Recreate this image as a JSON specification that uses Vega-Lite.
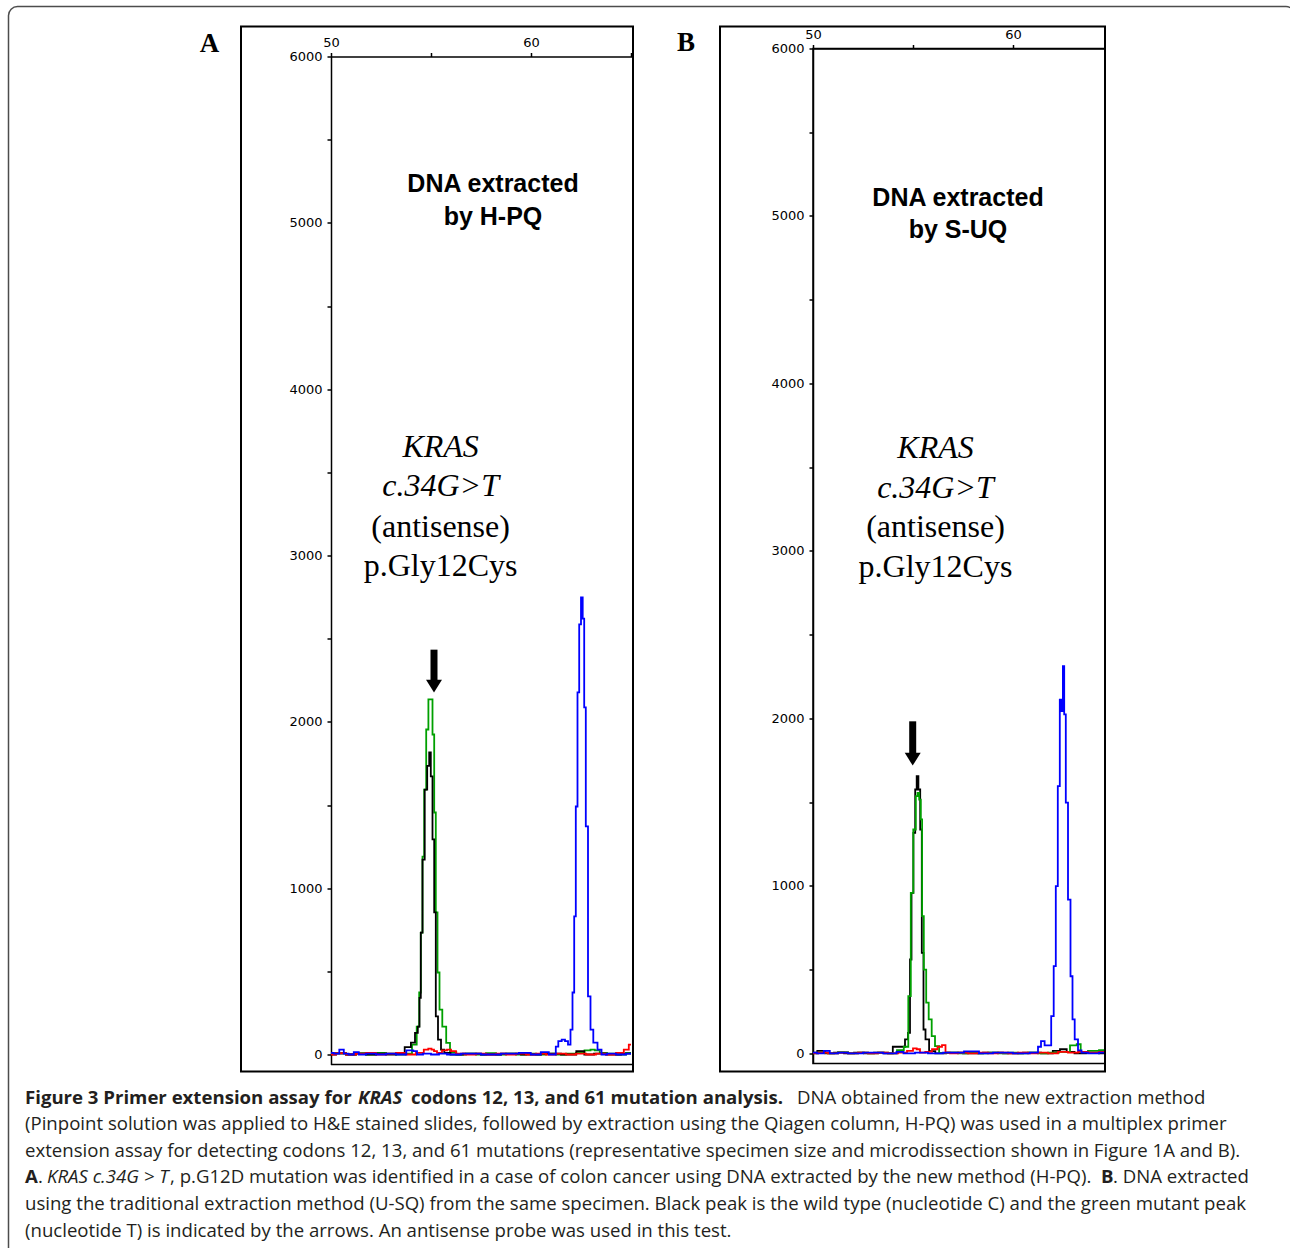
{
"$schema": "https://vega.github.io/schema/vega-lite/v6.json",
"background": "white",
"padding": {"left": 7, "top": 5.5, "right": 0, "bottom": 0},
"autosize": {"type": "pad"},
"columns": 2,
"align": "each",
"bounds": "flush",
"spacing": {"row": 39, "column": 181},
"config": {
  "view": {"stroke": null},
  "axis": {"domainColor": "#000", "domainWidth": 1.5, "tickColor": "#000", "tickWidth": 1.5, "tickSize": 4, "labelColor": "#000", "labelFont": "DejaVu Sans", "labelFontSize": 13, "grid": false, "labelFlush": false, "labelOverlap": false}
},
"datasets": {
  "traces": [
    {"panel":"A","dye":"green","x":50.0,"y":5},{"panel":"A","dye":"green","x":50.5,"y":10},{"panel":"A","dye":"green","x":51.0,"y":0},{"panel":"A","dye":"green","x":51.5,"y":8},{"panel":"A","dye":"green","x":52.0,"y":0},{"panel":"A","dye":"green","x":52.5,"y":10},{"panel":"A","dye":"green","x":53.0,"y":5},{"panel":"A","dye":"green","x":53.5,"y":0},{"panel":"A","dye":"green","x":53.9,"y":5},{"panel":"A","dye":"green","x":54.2,"y":60},{"panel":"A","dye":"green","x":54.37,"y":168},{"panel":"A","dye":"green","x":54.45,"y":373},{"panel":"A","dye":"green","x":54.53,"y":733},{"panel":"A","dye":"green","x":54.62,"y":1190},{"panel":"A","dye":"green","x":54.7,"y":1593},{"panel":"A","dye":"green","x":54.82,"y":1954},{"panel":"A","dye":"green","x":54.92,"y":2135},{"panel":"A","dye":"green","x":55.03,"y":2135},{"panel":"A","dye":"green","x":55.12,"y":1924},{"panel":"A","dye":"green","x":55.2,"y":1455},{"panel":"A","dye":"green","x":55.28,"y":854},{"panel":"A","dye":"green","x":55.37,"y":493},{"panel":"A","dye":"green","x":55.48,"y":270},{"panel":"A","dye":"green","x":55.65,"y":168},{"panel":"A","dye":"green","x":55.87,"y":70},{"panel":"A","dye":"green","x":56.03,"y":15},{"panel":"A","dye":"green","x":56.5,"y":0},{"panel":"A","dye":"green","x":57.0,"y":5},{"panel":"A","dye":"green","x":57.5,"y":0},{"panel":"A","dye":"green","x":58.0,"y":8},{"panel":"A","dye":"green","x":58.5,"y":0},{"panel":"A","dye":"green","x":59.0,"y":5},{"panel":"A","dye":"green","x":59.5,"y":0},{"panel":"A","dye":"green","x":60.0,"y":5},{"panel":"A","dye":"green","x":60.5,"y":0},{"panel":"A","dye":"green","x":61.0,"y":5},{"panel":"A","dye":"green","x":61.5,"y":0},{"panel":"A","dye":"green","x":62.0,"y":5},{"panel":"A","dye":"green","x":62.5,"y":10},{"panel":"A","dye":"green","x":62.85,"y":25},{"panel":"A","dye":"green","x":63.1,"y":30},{"panel":"A","dye":"green","x":63.28,"y":25},{"panel":"A","dye":"green","x":63.6,"y":10},{"panel":"A","dye":"green","x":64.0,"y":5},{"panel":"A","dye":"green","x":64.5,"y":0},{"panel":"A","dye":"green","x":65.0,"y":10},
    {"panel":"A","dye":"black","x":50.0,"y":0},{"panel":"A","dye":"black","x":50.5,"y":5},{"panel":"A","dye":"black","x":51.0,"y":0},{"panel":"A","dye":"black","x":51.5,"y":5},{"panel":"A","dye":"black","x":52.0,"y":0},{"panel":"A","dye":"black","x":52.5,"y":5},{"panel":"A","dye":"black","x":53.0,"y":0},{"panel":"A","dye":"black","x":53.5,"y":5},{"panel":"A","dye":"black","x":53.87,"y":45},{"panel":"A","dye":"black","x":54.12,"y":72},{"panel":"A","dye":"black","x":54.28,"y":130},{"panel":"A","dye":"black","x":54.4,"y":168},{"panel":"A","dye":"black","x":54.45,"y":340},{"panel":"A","dye":"black","x":54.53,"y":733},{"panel":"A","dye":"black","x":54.62,"y":1172},{"panel":"A","dye":"black","x":54.75,"y":1593},{"panel":"A","dye":"black","x":54.87,"y":1735},{"panel":"A","dye":"black","x":54.95,"y":1816},{"panel":"A","dye":"black","x":55.03,"y":1672},{"panel":"A","dye":"black","x":55.12,"y":1293},{"panel":"A","dye":"black","x":55.2,"y":854},{"panel":"A","dye":"black","x":55.28,"y":229},{"panel":"A","dye":"black","x":55.42,"y":90},{"panel":"A","dye":"black","x":55.58,"y":30},{"panel":"A","dye":"black","x":55.75,"y":10},{"panel":"A","dye":"black","x":56.2,"y":0},{"panel":"A","dye":"black","x":57.0,"y":5},{"panel":"A","dye":"black","x":58.0,"y":0},{"panel":"A","dye":"black","x":59.0,"y":5},{"panel":"A","dye":"black","x":60.0,"y":0},{"panel":"A","dye":"black","x":61.0,"y":5},{"panel":"A","dye":"black","x":62.0,"y":0},{"panel":"A","dye":"black","x":62.53,"y":20},{"panel":"A","dye":"black","x":62.8,"y":0},{"panel":"A","dye":"black","x":63.5,"y":5},{"panel":"A","dye":"black","x":64.0,"y":0},{"panel":"A","dye":"black","x":65.0,"y":5},
    {"panel":"A","dye":"red","x":50.0,"y":0},{"panel":"A","dye":"red","x":50.5,"y":8},{"panel":"A","dye":"red","x":51.0,"y":0},{"panel":"A","dye":"red","x":51.5,"y":5},{"panel":"A","dye":"red","x":52.0,"y":10},{"panel":"A","dye":"red","x":52.5,"y":0},{"panel":"A","dye":"red","x":53.0,"y":5},{"panel":"A","dye":"red","x":53.5,"y":10},{"panel":"A","dye":"red","x":54.0,"y":0},{"panel":"A","dye":"red","x":54.5,"y":10},{"panel":"A","dye":"red","x":54.78,"y":30},{"panel":"A","dye":"red","x":54.95,"y":35},{"panel":"A","dye":"red","x":55.1,"y":30},{"panel":"A","dye":"red","x":55.2,"y":20},{"panel":"A","dye":"red","x":55.4,"y":10},{"panel":"A","dye":"red","x":55.7,"y":25},{"panel":"A","dye":"red","x":55.9,"y":30},{"panel":"A","dye":"red","x":56.1,"y":20},{"panel":"A","dye":"red","x":56.4,"y":5},{"panel":"A","dye":"red","x":57.0,"y":0},{"panel":"A","dye":"red","x":57.5,"y":5},{"panel":"A","dye":"red","x":58.0,"y":0},{"panel":"A","dye":"red","x":58.5,"y":5},{"panel":"A","dye":"red","x":59.0,"y":0},{"panel":"A","dye":"red","x":59.5,"y":5},{"panel":"A","dye":"red","x":60.0,"y":0},{"panel":"A","dye":"red","x":60.5,"y":5},{"panel":"A","dye":"red","x":61.0,"y":0},{"panel":"A","dye":"red","x":61.5,"y":5},{"panel":"A","dye":"red","x":62.0,"y":0},{"panel":"A","dye":"red","x":62.5,"y":5},{"panel":"A","dye":"red","x":63.0,"y":0},{"panel":"A","dye":"red","x":63.5,"y":5},{"panel":"A","dye":"red","x":64.0,"y":0},{"panel":"A","dye":"red","x":64.5,"y":10},{"panel":"A","dye":"red","x":64.78,"y":30},{"panel":"A","dye":"red","x":65.0,"y":60},
    {"panel":"A","dye":"blue","x":50.0,"y":10},{"panel":"A","dye":"blue","x":50.3,"y":5},{"panel":"A","dye":"blue","x":50.53,"y":30},{"panel":"A","dye":"blue","x":50.75,"y":5},{"panel":"A","dye":"blue","x":51.0,"y":0},{"panel":"A","dye":"blue","x":51.28,"y":15},{"panel":"A","dye":"blue","x":51.5,"y":0},{"panel":"A","dye":"blue","x":52.0,"y":5},{"panel":"A","dye":"blue","x":52.5,"y":0},{"panel":"A","dye":"blue","x":53.0,"y":5},{"panel":"A","dye":"blue","x":53.5,"y":0},{"panel":"A","dye":"blue","x":54.03,"y":25},{"panel":"A","dye":"blue","x":54.2,"y":20},{"panel":"A","dye":"blue","x":54.4,"y":0},{"panel":"A","dye":"blue","x":54.8,"y":5},{"panel":"A","dye":"blue","x":55.2,"y":0},{"panel":"A","dye":"blue","x":55.6,"y":5},{"panel":"A","dye":"blue","x":56.0,"y":0},{"panel":"A","dye":"blue","x":57.0,"y":5},{"panel":"A","dye":"blue","x":58.0,"y":0},{"panel":"A","dye":"blue","x":59.0,"y":5},{"panel":"A","dye":"blue","x":59.78,"y":10},{"panel":"A","dye":"blue","x":60.2,"y":0},{"panel":"A","dye":"blue","x":60.78,"y":15},{"panel":"A","dye":"blue","x":61.0,"y":0},{"panel":"A","dye":"blue","x":61.2,"y":0},{"panel":"A","dye":"blue","x":61.28,"y":48},{"panel":"A","dye":"blue","x":61.45,"y":80},{"panel":"A","dye":"blue","x":61.62,"y":90},{"panel":"A","dye":"blue","x":61.78,"y":80},{"panel":"A","dye":"blue","x":61.92,"y":60},{"panel":"A","dye":"blue","x":62.03,"y":150},{"panel":"A","dye":"blue","x":62.12,"y":373},{"panel":"A","dye":"blue","x":62.2,"y":830},{"panel":"A","dye":"blue","x":62.28,"y":1491},{"panel":"A","dye":"blue","x":62.37,"y":2177},{"panel":"A","dye":"blue","x":62.45,"y":2586},{"panel":"A","dye":"blue","x":62.55,"y":2748},{"panel":"A","dye":"blue","x":62.62,"y":2620},{"panel":"A","dye":"blue","x":62.7,"y":2087},{"panel":"A","dye":"blue","x":62.78,"y":1371},{"panel":"A","dye":"blue","x":62.92,"y":349},{"panel":"A","dye":"blue","x":63.03,"y":150},{"panel":"A","dye":"blue","x":63.2,"y":72},{"panel":"A","dye":"blue","x":63.45,"y":30},{"panel":"A","dye":"blue","x":63.6,"y":0},{"panel":"A","dye":"blue","x":64.0,"y":5},{"panel":"A","dye":"blue","x":64.5,"y":0},{"panel":"A","dye":"blue","x":65.0,"y":5},
    {"panel":"B","dye":"black","x":50.0,"y":5},{"panel":"B","dye":"black","x":50.43,"y":15},{"panel":"B","dye":"black","x":50.8,"y":0},{"panel":"B","dye":"black","x":51.3,"y":5},{"panel":"B","dye":"black","x":51.8,"y":0},{"panel":"B","dye":"black","x":52.3,"y":5},{"panel":"B","dye":"black","x":52.8,"y":0},{"panel":"B","dye":"black","x":53.3,"y":5},{"panel":"B","dye":"black","x":53.8,"y":0},{"panel":"B","dye":"black","x":54.18,"y":40},{"panel":"B","dye":"black","x":54.52,"y":40},{"panel":"B","dye":"black","x":54.68,"y":84},{"panel":"B","dye":"black","x":54.82,"y":123},{"panel":"B","dye":"black","x":54.88,"y":561},{"panel":"B","dye":"black","x":54.97,"y":959},{"panel":"B","dye":"black","x":55.07,"y":1317},{"panel":"B","dye":"black","x":55.15,"y":1576},{"panel":"B","dye":"black","x":55.22,"y":1656},{"panel":"B","dye":"black","x":55.32,"y":1576},{"panel":"B","dye":"black","x":55.4,"y":1337},{"panel":"B","dye":"black","x":55.48,"y":601},{"panel":"B","dye":"black","x":55.57,"y":143},{"panel":"B","dye":"black","x":55.68,"y":84},{"panel":"B","dye":"black","x":55.93,"y":14},{"panel":"B","dye":"black","x":56.3,"y":0},{"panel":"B","dye":"black","x":57.0,"y":5},{"panel":"B","dye":"black","x":58.0,"y":0},{"panel":"B","dye":"black","x":59.0,"y":5},{"panel":"B","dye":"black","x":60.0,"y":0},{"panel":"B","dye":"black","x":61.0,"y":5},{"panel":"B","dye":"black","x":61.8,"y":0},{"panel":"B","dye":"black","x":62.18,"y":15},{"panel":"B","dye":"black","x":62.52,"y":25},{"panel":"B","dye":"black","x":62.85,"y":10},{"panel":"B","dye":"black","x":63.3,"y":0},{"panel":"B","dye":"black","x":64.0,"y":5},{"panel":"B","dye":"black","x":64.6,"y":0},
    {"panel":"B","dye":"green","x":50.0,"y":0},{"panel":"B","dye":"green","x":50.5,"y":5},{"panel":"B","dye":"green","x":51.0,"y":0},{"panel":"B","dye":"green","x":51.5,"y":8},{"panel":"B","dye":"green","x":52.0,"y":0},{"panel":"B","dye":"green","x":52.5,"y":5},{"panel":"B","dye":"green","x":53.0,"y":0},{"panel":"B","dye":"green","x":53.5,"y":5},{"panel":"B","dye":"green","x":54.0,"y":0},{"panel":"B","dye":"green","x":54.4,"y":20},{"panel":"B","dye":"green","x":54.68,"y":40},{"panel":"B","dye":"green","x":54.85,"y":342},{"panel":"B","dye":"green","x":54.93,"y":959},{"panel":"B","dye":"green","x":55.1,"y":1337},{"panel":"B","dye":"green","x":55.18,"y":1536},{"panel":"B","dye":"green","x":55.27,"y":1556},{"panel":"B","dye":"green","x":55.35,"y":1516},{"panel":"B","dye":"green","x":55.43,"y":1397},{"panel":"B","dye":"green","x":55.48,"y":820},{"panel":"B","dye":"green","x":55.6,"y":501},{"panel":"B","dye":"green","x":55.72,"y":303},{"panel":"B","dye":"green","x":55.85,"y":203},{"panel":"B","dye":"green","x":56.02,"y":104},{"panel":"B","dye":"green","x":56.18,"y":44},{"panel":"B","dye":"green","x":56.43,"y":4},{"panel":"B","dye":"green","x":57.0,"y":5},{"panel":"B","dye":"green","x":57.5,"y":0},{"panel":"B","dye":"green","x":58.0,"y":5},{"panel":"B","dye":"green","x":58.5,"y":0},{"panel":"B","dye":"green","x":59.0,"y":5},{"panel":"B","dye":"green","x":59.5,"y":0},{"panel":"B","dye":"green","x":60.0,"y":5},{"panel":"B","dye":"green","x":60.5,"y":0},{"panel":"B","dye":"green","x":61.0,"y":5},{"panel":"B","dye":"green","x":61.5,"y":0},{"panel":"B","dye":"green","x":62.0,"y":5},{"panel":"B","dye":"green","x":62.6,"y":10},{"panel":"B","dye":"green","x":63.1,"y":48},{"panel":"B","dye":"green","x":63.27,"y":55},{"panel":"B","dye":"green","x":63.5,"y":10},{"panel":"B","dye":"green","x":64.0,"y":15},{"panel":"B","dye":"green","x":64.6,"y":20},
    {"panel":"B","dye":"red","x":50.0,"y":0},{"panel":"B","dye":"red","x":50.5,"y":5},{"panel":"B","dye":"red","x":51.0,"y":0},{"panel":"B","dye":"red","x":51.5,"y":5},{"panel":"B","dye":"red","x":52.0,"y":0},{"panel":"B","dye":"red","x":52.5,"y":5},{"panel":"B","dye":"red","x":53.0,"y":0},{"panel":"B","dye":"red","x":53.5,"y":5},{"panel":"B","dye":"red","x":54.0,"y":0},{"panel":"B","dye":"red","x":54.5,"y":5},{"panel":"B","dye":"red","x":54.9,"y":15},{"panel":"B","dye":"red","x":55.1,"y":30},{"panel":"B","dye":"red","x":55.27,"y":25},{"panel":"B","dye":"red","x":55.43,"y":5},{"panel":"B","dye":"red","x":55.8,"y":10},{"panel":"B","dye":"red","x":56.1,"y":25},{"panel":"B","dye":"red","x":56.35,"y":40},{"panel":"B","dye":"red","x":56.55,"y":50},{"panel":"B","dye":"red","x":56.7,"y":5},{"panel":"B","dye":"red","x":57.0,"y":0},{"panel":"B","dye":"red","x":57.5,"y":5},{"panel":"B","dye":"red","x":58.0,"y":0},{"panel":"B","dye":"red","x":58.5,"y":5},{"panel":"B","dye":"red","x":59.0,"y":0},{"panel":"B","dye":"red","x":59.5,"y":5},{"panel":"B","dye":"red","x":60.0,"y":0},{"panel":"B","dye":"red","x":60.5,"y":5},{"panel":"B","dye":"red","x":61.0,"y":0},{"panel":"B","dye":"red","x":61.5,"y":5},{"panel":"B","dye":"red","x":62.0,"y":0},{"panel":"B","dye":"red","x":62.5,"y":10},{"panel":"B","dye":"red","x":63.0,"y":5},{"panel":"B","dye":"red","x":63.5,"y":10},{"panel":"B","dye":"red","x":64.0,"y":5},{"panel":"B","dye":"red","x":64.6,"y":10},
    {"panel":"B","dye":"blue","x":50.0,"y":5},{"panel":"B","dye":"blue","x":50.4,"y":0},{"panel":"B","dye":"blue","x":50.68,"y":15},{"panel":"B","dye":"blue","x":51.0,"y":0},{"panel":"B","dye":"blue","x":51.5,"y":5},{"panel":"B","dye":"blue","x":52.0,"y":0},{"panel":"B","dye":"blue","x":53.0,"y":5},{"panel":"B","dye":"blue","x":54.0,"y":0},{"panel":"B","dye":"blue","x":54.35,"y":10},{"panel":"B","dye":"blue","x":54.7,"y":0},{"panel":"B","dye":"blue","x":55.5,"y":5},{"panel":"B","dye":"blue","x":56.0,"y":0},{"panel":"B","dye":"blue","x":57.0,"y":5},{"panel":"B","dye":"blue","x":58.1,"y":12},{"panel":"B","dye":"blue","x":58.5,"y":0},{"panel":"B","dye":"blue","x":59.5,"y":5},{"panel":"B","dye":"blue","x":60.5,"y":0},{"panel":"B","dye":"blue","x":61.18,"y":5},{"panel":"B","dye":"blue","x":61.32,"y":40},{"panel":"B","dye":"blue","x":61.48,"y":73},{"panel":"B","dye":"blue","x":61.68,"y":48},{"panel":"B","dye":"blue","x":61.85,"y":48},{"panel":"B","dye":"blue","x":61.97,"y":223},{"panel":"B","dye":"blue","x":62.1,"y":521},{"panel":"B","dye":"blue","x":62.18,"y":999},{"panel":"B","dye":"blue","x":62.3,"y":1596},{"panel":"B","dye":"blue","x":62.38,"y":2113},{"panel":"B","dye":"blue","x":62.47,"y":2044},{"panel":"B","dye":"blue","x":62.52,"y":2312},{"panel":"B","dye":"blue","x":62.6,"y":2024},{"panel":"B","dye":"blue","x":62.68,"y":1497},{"panel":"B","dye":"blue","x":62.82,"y":919},{"panel":"B","dye":"blue","x":62.93,"y":461},{"panel":"B","dye":"blue","x":63.02,"y":203},{"panel":"B","dye":"blue","x":63.15,"y":84},{"panel":"B","dye":"blue","x":63.35,"y":18},{"panel":"B","dye":"blue","x":63.5,"y":5},{"panel":"B","dye":"blue","x":64.0,"y":0},{"panel":"B","dye":"blue","x":64.6,"y":5}
  ],
  "notes": [
    {"panel":"A","role":"title","x":58.1,"y":5188,"text":"DNA extracted"},
    {"panel":"A","role":"title","x":58.1,"y":4984,"text":"by H-PQ"},
    {"panel":"A","role":"gene","x":55.48,"y":3595,"text":"KRAS"},
    {"panel":"A","role":"gene","x":55.48,"y":3355,"text":"c.34G>T"},
    {"panel":"A","role":"desc","x":55.48,"y":3114,"text":"(antisense)"},
    {"panel":"A","role":"desc","x":55.48,"y":2874,"text":"p.Gly12Cys"},
    {"panel":"A","role":"letter","x":43.925,"y":6030,"text":"A"},
    {"panel":"B","role":"title","x":57.25,"y":5062,"text":"DNA extracted"},
    {"panel":"B","role":"title","x":57.25,"y":4866,"text":"by S-UQ"},
    {"panel":"B","role":"gene","x":56.125,"y":3558,"text":"KRAS"},
    {"panel":"B","role":"gene","x":56.125,"y":3319,"text":"c.34G>T"},
    {"panel":"B","role":"desc","x":56.125,"y":3081,"text":"(antisense)"},
    {"panel":"B","role":"desc","x":56.125,"y":2842,"text":"p.Gly12Cys"},
    {"panel":"B","role":"letter","x":43.65,"y":5984,"text":"B"}
  ],
  "arrows": [
    {"panel":"A","x":55.15,"ytop":2434,"yhead":2215},
    {"panel":"B","x":54.985,"ytop":1983,"yhead":1757}
  ],
  "caption": [
    {"line":1,"seg":"h1","text":"Figure 3 Primer extension assay for"},
    {"line":1,"seg":"h2","text":"KRAS"},
    {"line":1,"seg":"h3","text":"codons 12, 13, and 61 mutation analysis."},
    {"line":1,"seg":"b1","text":"DNA obtained from the new extraction method"},
    {"line":2,"seg":"b","text":"(Pinpoint solution was applied to H&E stained slides, followed by extraction using the Qiagen column, H-PQ) was used in a multiplex primer"},
    {"line":3,"seg":"b","text":"extension assay for detecting codons 12, 13, and 61 mutations (representative specimen size and microdissection shown in Figure 1A and B)."},
    {"line":4,"seg":"a1","text":"A"},
    {"line":4,"seg":"a2","text":"."},
    {"line":4,"seg":"a3","text":"KRAS c.34G > T"},
    {"line":4,"seg":"a4","text":", p.G12D mutation was identified in a case of colon cancer using DNA extracted by the new method (H-PQ)."},
    {"line":4,"seg":"a5","text":"B"},
    {"line":4,"seg":"a6","text":". DNA extracted"},
    {"line":5,"seg":"b","text":"using the traditional extraction method (U-SQ) from the same specimen. Black peak is the wild type (nucleotide C) and the green mutant peak"},
    {"line":6,"seg":"b","text":"(nucleotide T) is indicated by the arrows. An antisense probe was used in this test."}
  ]
},
"concat": [
  {
    "width": 301, "height": 1016,
    "layer": [
      {
        "data": {"name": "traces"},
        "transform": [{"filter": "datum.panel === 'A'"}],
        "mark": {"type": "line", "interpolate": "step", "strokeWidth": 1.8},
        "encoding": {
          "x": {"field": "x", "type": "quantitative", "scale": {"domain": [50, 65.05], "nice": false, "zero": false},
                "axis": {"orient": "top", "offset": -8, "values": [50, 55, 60, 65], "labelExpr": "datum.value % 10 === 0 ? datum.label : ''", "title": null, "labelPadding": 3}},
          "y": {"field": "y", "type": "quantitative", "scale": {"domain": [-60, 6000], "range": [1016, 8], "nice": false, "zero": false},
                "axis": {"orient": "left", "values": [0, 500, 1000, 1500, 2000, 2500, 3000, 3500, 4000, 4500, 5000, 5500, 6000], "format": "d", "labelExpr": "datum.value % 1000 === 0 ? datum.label : ''", "title": null, "labelPadding": 5}},
          "color": {"field": "dye", "type": "nominal", "scale": {"domain": ["black", "blue", "green", "red"], "range": ["#000000", "#0000ff", "#00a000", "#ff0000"]}, "legend": null}
        }
      },
      {
        "data": {"values": [{}]},
        "mark": {"type": "rect", "fill": "white", "fillOpacity": 0, "stroke": "#4d4d4d", "strokeWidth": 1.5, "cornerRadius": 9},
        "encoding": {
          "x": {"datum": 33.875, "type": "quantitative", "scale": {"domain": [50, 65.05], "nice": false, "zero": false}},
          "x2": {"datum": 98.2},
          "y": {"datum": 6300, "type": "quantitative", "scale": {"domain": [-60, 6000], "range": [1016, 8], "nice": false, "zero": false}},
          "y2": {"datum": -1235}
        }
      },
      {
        "data": {"values": [{}]},
        "mark": {"type": "rect", "fill": "white", "fillOpacity": 0, "stroke": "#000", "strokeWidth": 2},
        "encoding": {
          "x": {"datum": 45.5, "type": "quantitative", "scale": {"domain": [50, 65.05], "nice": false, "zero": false}},
          "x2": {"datum": 65.1},
          "y": {"datum": 6180, "type": "quantitative", "scale": {"domain": [-60, 6000], "range": [1016, 8], "nice": false, "zero": false}},
          "y2": {"datum": -102}
        }
      },
      {
        "data": {"values": [{}]},
        "mark": {"type": "rule", "stroke": "#000", "strokeWidth": 1.5},
        "encoding": {
          "x": {"datum": 50, "type": "quantitative", "scale": {"domain": [50, 65.05], "nice": false, "zero": false}},
          "x2": {"datum": 65.05},
          "y": {"datum": -60, "type": "quantitative", "scale": {"domain": [-60, 6000], "range": [1016, 8], "nice": false, "zero": false}}
        }
      },
      {
        "data": {"name": "arrows"},
        "transform": [{"filter": "datum.panel === 'A'"}],
        "mark": {"type": "rule", "stroke": "#000", "strokeWidth": 7, "strokeCap": "butt"},
        "encoding": {
          "x": {"field": "x", "type": "quantitative", "scale": {"domain": [50, 65.05], "nice": false, "zero": false}},
          "y": {"field": "ytop", "type": "quantitative", "scale": {"domain": [-60, 6000], "range": [1016, 8], "nice": false, "zero": false}},
          "y2": {"field": "yhead"}
        }
      },
      {
        "data": {"name": "arrows"},
        "transform": [{"filter": "datum.panel === 'A'"}],
        "mark": {"type": "point", "shape": "M -1 -0.8 L 1 -0.8 L 0 0.8 Z", "size": 256, "filled": true, "color": "#000", "opacity": 1},
        "encoding": {
          "x": {"field": "x", "type": "quantitative", "scale": {"domain": [50, 65.05], "nice": false, "zero": false}},
          "y": {"field": "yhead", "type": "quantitative", "scale": {"domain": [-60, 6000], "range": [1016, 8], "nice": false, "zero": false}}
        }
      },
      {
        "data": {"name": "notes"},
        "transform": [{"filter": "datum.panel === 'A' && datum.role === 'title'"}],
        "mark": {"type": "text", "font": "Liberation Sans", "fontWeight": "bold", "fontSize": 25, "align": "center", "baseline": "alphabetic", "color": "#000"},
        "encoding": {
          "x": {"field": "x", "type": "quantitative", "scale": {"domain": [50, 65.05], "nice": false, "zero": false}},
          "y": {"field": "y", "type": "quantitative", "scale": {"domain": [-60, 6000], "range": [1016, 8], "nice": false, "zero": false}},
          "text": {"field": "text"}
        }
      },
      {
        "data": {"name": "notes"},
        "transform": [{"filter": "datum.panel === 'A' && datum.role === 'gene'"}],
        "mark": {"type": "text", "font": "Liberation Serif", "fontStyle": "italic", "fontSize": 32, "align": "center", "baseline": "alphabetic", "color": "#000"},
        "encoding": {
          "x": {"field": "x", "type": "quantitative", "scale": {"domain": [50, 65.05], "nice": false, "zero": false}},
          "y": {"field": "y", "type": "quantitative", "scale": {"domain": [-60, 6000], "range": [1016, 8], "nice": false, "zero": false}},
          "text": {"field": "text"}
        }
      },
      {
        "data": {"name": "notes"},
        "transform": [{"filter": "datum.panel === 'A' && datum.role === 'desc'"}],
        "mark": {"type": "text", "font": "Liberation Serif", "fontSize": 32, "align": "center", "baseline": "alphabetic", "color": "#000"},
        "encoding": {
          "x": {"field": "x", "type": "quantitative", "scale": {"domain": [50, 65.05], "nice": false, "zero": false}},
          "y": {"field": "y", "type": "quantitative", "scale": {"domain": [-60, 6000], "range": [1016, 8], "nice": false, "zero": false}},
          "text": {"field": "text"}
        }
      },
      {
        "data": {"name": "notes"},
        "transform": [{"filter": "datum.panel === 'A' && datum.role === 'letter'"}],
        "mark": {"type": "text", "font": "Liberation Serif", "fontWeight": "bold", "fontSize": 27, "align": "center", "baseline": "alphabetic", "color": "#000"},
        "encoding": {
          "x": {"field": "x", "type": "quantitative", "scale": {"domain": [50, 65.05], "nice": false, "zero": false}},
          "y": {"field": "y", "type": "quantitative", "scale": {"domain": [-60, 6000], "range": [1016, 8], "nice": false, "zero": false}},
          "text": {"field": "text"}
        }
      }
    ]
  },
  {
    "width": 292, "height": 1015,
    "view": {"stroke": "#000", "strokeWidth": 1.5},
    "layer": [
      {
        "data": {"name": "traces"},
        "transform": [{"filter": "datum.panel === 'B'"}],
        "mark": {"type": "line", "interpolate": "step", "strokeWidth": 1.8},
        "encoding": {
          "x": {"field": "x", "type": "quantitative", "scale": {"domain": [50, 64.6], "nice": false, "zero": false},
                "axis": {"orient": "top", "values": [50, 55, 60], "labelExpr": "datum.value % 10 === 0 ? datum.label : ''", "title": null, "labelPadding": 3}},
          "y": {"field": "y", "type": "quantitative", "scale": {"domain": [-60, 6000], "nice": false, "zero": false},
                "axis": {"orient": "left", "values": [0, 500, 1000, 1500, 2000, 2500, 3000, 3500, 4000, 4500, 5000, 5500, 6000], "format": "d", "labelExpr": "datum.value % 1000 === 0 ? datum.label : ''", "title": null, "labelPadding": 5}},
          "color": {"field": "dye", "type": "nominal", "scale": {"domain": ["black", "blue", "green", "red"], "range": ["#000000", "#0000ff", "#00a000", "#ff0000"]}, "legend": null}
        }
      },
      {
        "data": {"values": [{}]},
        "mark": {"type": "rect", "fill": "white", "fillOpacity": 0, "stroke": "#000", "strokeWidth": 2},
        "encoding": {
          "x": {"datum": 45.35, "type": "quantitative", "scale": {"domain": [50, 64.6], "nice": false, "zero": false}},
          "x2": {"datum": 64.6},
          "y": {"datum": 6131, "type": "quantitative", "scale": {"domain": [-60, 6000], "nice": false, "zero": false}},
          "y2": {"datum": -108}
        }
      },
      {
        "data": {"name": "arrows"},
        "transform": [{"filter": "datum.panel === 'B'"}],
        "mark": {"type": "rule", "stroke": "#000", "strokeWidth": 7, "strokeCap": "butt"},
        "encoding": {
          "x": {"field": "x", "type": "quantitative", "scale": {"domain": [50, 64.6], "nice": false, "zero": false}},
          "y": {"field": "ytop", "type": "quantitative", "scale": {"domain": [-60, 6000], "nice": false, "zero": false}},
          "y2": {"field": "yhead"}
        }
      },
      {
        "data": {"name": "arrows"},
        "transform": [{"filter": "datum.panel === 'B'"}],
        "mark": {"type": "point", "shape": "M -1 -0.8 L 1 -0.8 L 0 0.8 Z", "size": 256, "filled": true, "color": "#000", "opacity": 1},
        "encoding": {
          "x": {"field": "x", "type": "quantitative", "scale": {"domain": [50, 64.6], "nice": false, "zero": false}},
          "y": {"field": "yhead", "type": "quantitative", "scale": {"domain": [-60, 6000], "nice": false, "zero": false}}
        }
      },
      {
        "data": {"name": "notes"},
        "transform": [{"filter": "datum.panel === 'B' && datum.role === 'title'"}],
        "mark": {"type": "text", "font": "Liberation Sans", "fontWeight": "bold", "fontSize": 25, "align": "center", "baseline": "alphabetic", "color": "#000"},
        "encoding": {
          "x": {"field": "x", "type": "quantitative", "scale": {"domain": [50, 64.6], "nice": false, "zero": false}},
          "y": {"field": "y", "type": "quantitative", "scale": {"domain": [-60, 6000], "nice": false, "zero": false}},
          "text": {"field": "text"}
        }
      },
      {
        "data": {"name": "notes"},
        "transform": [{"filter": "datum.panel === 'B' && datum.role === 'gene'"}],
        "mark": {"type": "text", "font": "Liberation Serif", "fontStyle": "italic", "fontSize": 32, "align": "center", "baseline": "alphabetic", "color": "#000"},
        "encoding": {
          "x": {"field": "x", "type": "quantitative", "scale": {"domain": [50, 64.6], "nice": false, "zero": false}},
          "y": {"field": "y", "type": "quantitative", "scale": {"domain": [-60, 6000], "nice": false, "zero": false}},
          "text": {"field": "text"}
        }
      },
      {
        "data": {"name": "notes"},
        "transform": [{"filter": "datum.panel === 'B' && datum.role === 'desc'"}],
        "mark": {"type": "text", "font": "Liberation Serif", "fontSize": 32, "align": "center", "baseline": "alphabetic", "color": "#000"},
        "encoding": {
          "x": {"field": "x", "type": "quantitative", "scale": {"domain": [50, 64.6], "nice": false, "zero": false}},
          "y": {"field": "y", "type": "quantitative", "scale": {"domain": [-60, 6000], "nice": false, "zero": false}},
          "text": {"field": "text"}
        }
      },
      {
        "data": {"name": "notes"},
        "transform": [{"filter": "datum.panel === 'B' && datum.role === 'letter'"}],
        "mark": {"type": "text", "font": "Liberation Serif", "fontWeight": "bold", "fontSize": 27, "align": "center", "baseline": "alphabetic", "color": "#000"},
        "encoding": {
          "x": {"field": "x", "type": "quantitative", "scale": {"domain": [50, 64.6], "nice": false, "zero": false}},
          "y": {"field": "y", "type": "quantitative", "scale": {"domain": [-60, 6000], "nice": false, "zero": false}},
          "text": {"field": "text"}
        }
      }
    ]
  },
  {
    "width": 301, "height": 133,
    "data": {"name": "caption"},
    "encoding": {
      "x": {"datum": 34.7, "type": "quantitative", "scale": {"domain": [50, 65.05], "nice": false, "zero": false}, "axis": null},
      "y": {"field": "line", "type": "quantitative", "scale": {"domain": [1, 6], "reverse": true, "nice": false, "zero": false}, "axis": null},
      "text": {"field": "text"}
    },
    "layer": [
      {"transform": [{"filter": "datum.seg === 'b'"}], "mark": {"type": "text", "align": "left", "baseline": "alphabetic", "font": "Open Sans", "fontSize": 18.6, "color": "#231f20"}},
      {"transform": [{"filter": "datum.seg === 'h1'"}], "mark": {"type": "text", "align": "left", "baseline": "alphabetic", "font": "Open Sans", "fontWeight": "bold", "fontSize": 18.6, "color": "#231f20"}},
      {"transform": [{"filter": "datum.seg === 'h2'"}], "mark": {"type": "text", "align": "left", "baseline": "alphabetic", "font": "Open Sans", "fontWeight": "bold", "fontStyle": "italic", "fontSize": 18.6, "color": "#231f20", "dx": 333}},
      {"transform": [{"filter": "datum.seg === 'h3'"}], "mark": {"type": "text", "align": "left", "baseline": "alphabetic", "font": "Open Sans", "fontWeight": "bold", "fontSize": 18.6, "color": "#231f20", "dx": 386}},
      {"transform": [{"filter": "datum.seg === 'b1'"}], "mark": {"type": "text", "align": "left", "baseline": "alphabetic", "font": "Open Sans", "fontSize": 18.6, "color": "#231f20", "dx": 772}},
      {"transform": [{"filter": "datum.seg === 'a1'"}], "mark": {"type": "text", "align": "left", "baseline": "alphabetic", "font": "Open Sans", "fontWeight": "bold", "fontSize": 18.6, "color": "#231f20"}},
      {"transform": [{"filter": "datum.seg === 'a2'"}], "mark": {"type": "text", "align": "left", "baseline": "alphabetic", "font": "Open Sans", "fontSize": 18.6, "color": "#231f20", "dx": 13}},
      {"transform": [{"filter": "datum.seg === 'a3'"}], "mark": {"type": "text", "align": "left", "baseline": "alphabetic", "font": "Open Sans", "fontStyle": "italic", "fontSize": 18.6, "color": "#231f20", "dx": 22}},
      {"transform": [{"filter": "datum.seg === 'a4'"}], "mark": {"type": "text", "align": "left", "baseline": "alphabetic", "font": "Open Sans", "fontSize": 18.6, "color": "#231f20", "dx": 145}},
      {"transform": [{"filter": "datum.seg === 'a5'"}], "mark": {"type": "text", "align": "left", "baseline": "alphabetic", "font": "Open Sans", "fontWeight": "bold", "fontSize": 18.6, "color": "#231f20", "dx": 1076}},
      {"transform": [{"filter": "datum.seg === 'a6'"}], "mark": {"type": "text", "align": "left", "baseline": "alphabetic", "font": "Open Sans", "fontSize": 18.6, "color": "#231f20", "dx": 1088}}
    ]
  }
]
}
